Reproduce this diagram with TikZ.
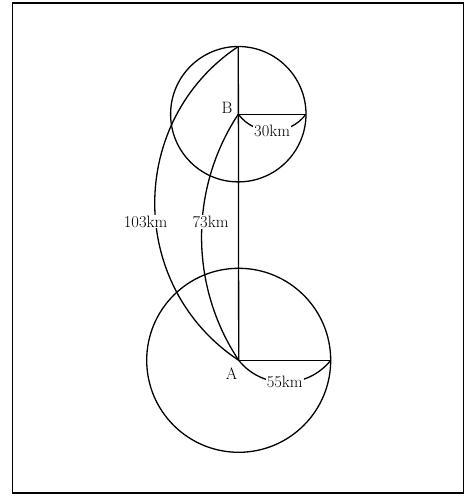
\documentclass[tikz,border=0pt]{standalone}
\begin{document}
\begin{tikzpicture}[x=1pt,y=1pt,
  geo/.style={line width=1.3pt, black},
  lbl/.style={font=\fontsize{16.5}{19}\selectfont, inner sep=1pt},
  arclbl/.style={lbl, fill=white}]
\useasboundingbox (0,0) rectangle (468,496);
% frame
\draw[line width=1.3pt] (12.5,3) rectangle (463.5,493);
% key points
\coordinate (A) at (238.7,135.7);
\coordinate (B) at (238.3,381.8);
\coordinate (Btop) at (238.3,449.5);
\coordinate (Bright) at (306.0,381.8);
\coordinate (Aright) at (330.7,135.7);
% circles
\draw[geo] (B) circle[radius=67.7];
\draw[geo] (A) circle[radius=92];
% radii and the line AB
\draw[geo] (Btop) -- (A);
\draw[geo] (B) -- (Bright);
\draw[geo] (A) -- (Aright);
% distance arcs
\draw[geo] (Btop) to[bend right=56.4, looseness=1.096]
  node[arclbl, pos=0.55, xshift=-10pt] {103km} (A);
\draw[geo] (B) to[bend right=33.5, looseness=0.93]
  node[arclbl, pos=0.44, xshift=8.5pt] {73km} (A);
\draw[geo] (B) to[bend right=53, looseness=1.066]
  node[arclbl] {30km} (Bright);
\draw[geo] (A) to[bend right=51.4, looseness=1.048]
  node[arclbl] {55km} (Aright);
% point labels
\node[lbl] (labB) at (227,388) {B};
\node[lbl] (labA) at (231.7,122.7) {A};
\end{tikzpicture}
\end{document}
